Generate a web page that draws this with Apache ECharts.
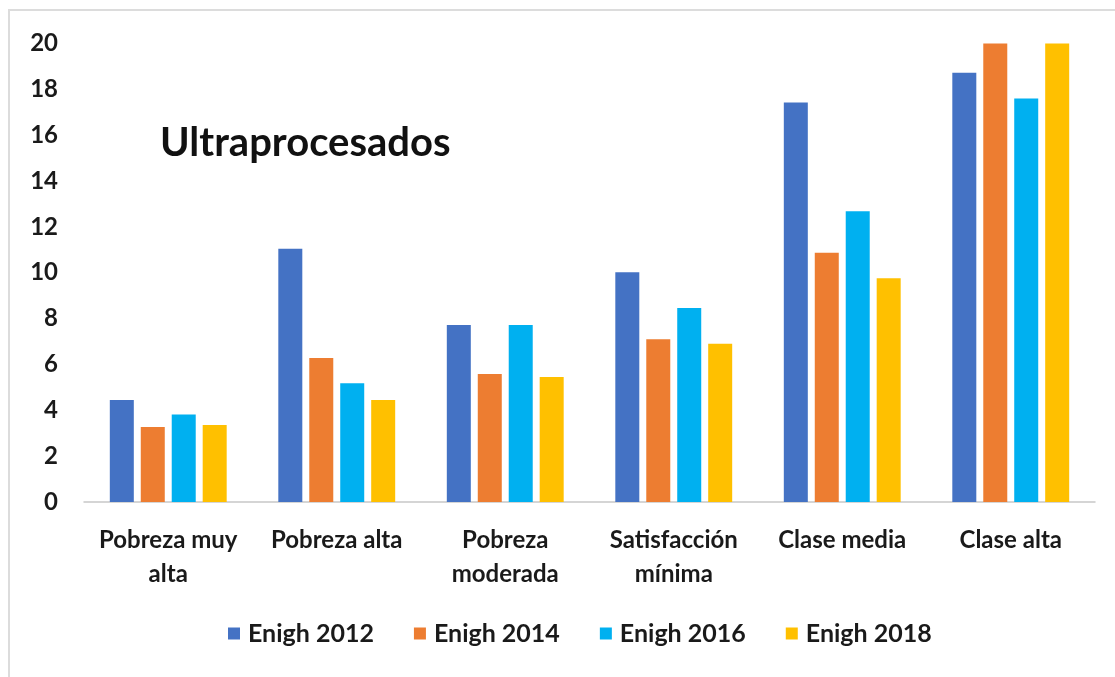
<!DOCTYPE html>
<html><head><meta charset="utf-8">
<script src="https://cdn.jsdelivr.net/npm/echarts@6/dist/echarts.min.js"></script>
<style>html,body{margin:0;padding:0;background:#fff}#c{width:1115px;height:677px}</style>
</head><body><div id="c"></div>
<script>
const categories = ["Pobreza muy\nalta", "Pobreza alta", "Pobreza\nmoderada", "Satisfacción\nmínima", "Clase media", "Clase alta"];
const seriesNames = ["Enigh 2012", "Enigh 2014", "Enigh 2016", "Enigh 2018"];
const enigh2012 = [4.45, 11.05, 7.72, 10.02, 17.43, 18.72];
const enigh2014 = [3.27, 6.28, 5.58, 7.1, 10.87, 20];
const enigh2016 = [3.82, 5.18, 7.72, 8.46, 12.68, 17.6];
const enigh2018 = [3.36, 4.45, 5.45, 6.9, 9.76, 20];
const yTicks = [0, 2, 4, 6, 8, 10, 12, 14, 16, 18, 20];
const colors = ["#4472C4", "#ED7D31", "#00B0F0", "#FFC000"];
const allData = [enigh2012, enigh2014, enigh2016, enigh2018];
const font = "Lato, 'Open Sans', sans-serif";

const chart = echarts.init(document.getElementById('c'));
chart.setOption({
  animation: false,
  backgroundColor: '#fff',
  color: colors,
  graphic: [
    { type: 'rect', shape: { x: 9, y: 10, width: 1200, height: 800 }, style: { fill: 'none', stroke: '#dcdcdc', lineWidth: 2 }, z: -1 },
    { type: 'text', left: 160, top: 123, style: { text: 'Ultraprocesados', font: "bold 40px " + font, fill: '#111' } }
  ],
  legend: {
    bottom: 26, left: 223, itemWidth: 12, itemHeight: 12, itemGap: 40,
    icon: 'rect',
    textStyle: { fontFamily: font, fontWeight: 'bold', fontSize: 25, color: '#1a1a1a', padding: [0, 0, 0, 3] },
    data: seriesNames
  },
  grid: { left: 84, right: 20, top: 43.5, bottom: 175 },
  xAxis: {
    type: 'category', data: categories,
    axisLine: { lineStyle: { color: '#c8c8c8', width: 1.5 } },
    axisTick: { show: false },
    axisLabel: { fontFamily: font, fontWeight: 'bold', fontSize: 24, color: '#1a1a1a', lineHeight: 34, margin: 21, interval: 0 }
  },
  yAxis: {
    type: 'value', min: 0, max: 20, interval: 2,
    axisLine: { show: false }, axisTick: { show: false }, splitLine: { show: false },
    axisLabel: { fontFamily: font, fontWeight: 'bold', fontSize: 24, color: '#1a1a1a', margin: 26,
      formatter: v => yTicks.includes(v) ? String(v) : '' }
  },
  series: seriesNames.map((n, i) => ({
    name: n, type: 'bar', data: allData[i], barWidth: 24, barGap: '29%', barCategoryGap: '31%'
  }))
});
</script></body></html>
